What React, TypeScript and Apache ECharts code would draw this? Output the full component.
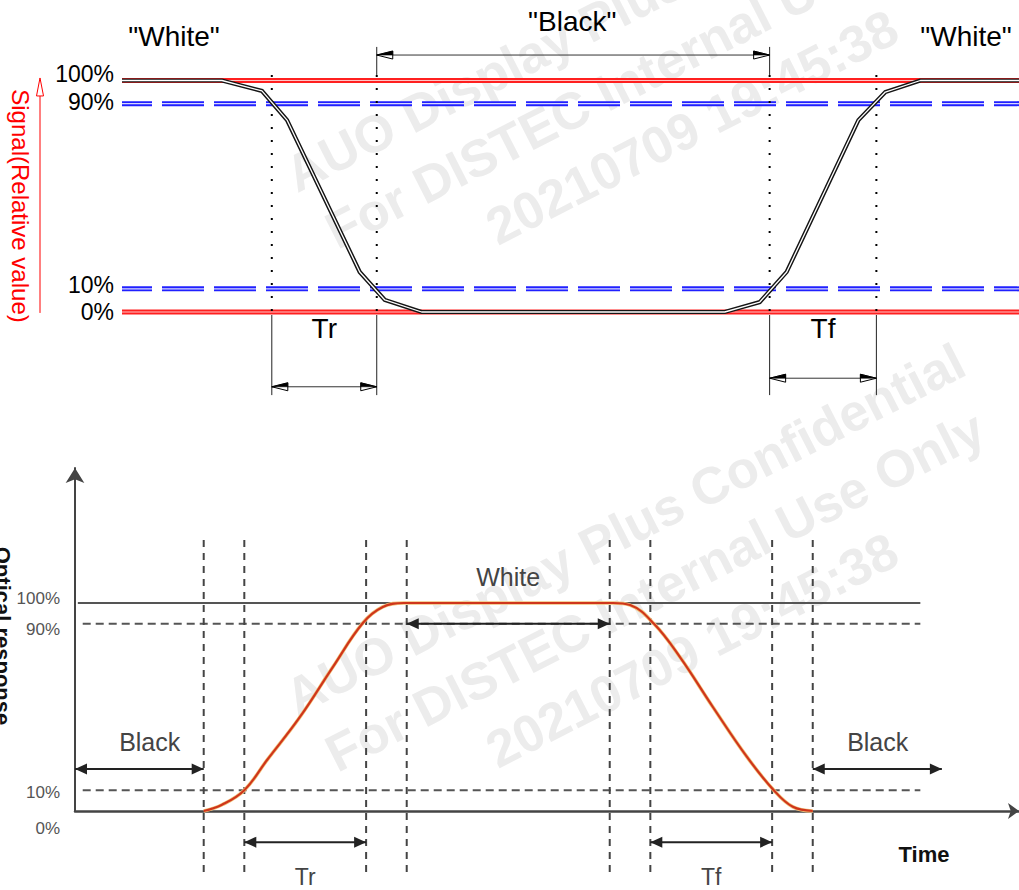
import React, { useEffect, useRef } from "react";
import * as echarts from "echarts";

// ===== Top panel: drive signal (relative value, %) vs time =====
const topTime = [0, 11.15, 15.6, 18.4, 26.5, 29.3, 33.4, 67.2, 71.1, 74.1, 82.1, 85.1, 89.0, 100];
const topSignal = [100, 100, 95.5, 82.9, 17.3, 5.2, 0, 0, 4.3, 17.3, 82.9, 95.0, 100, 100];
const topLevels = [100, 90, 10, 0];
const topLevelLabels = ["100%", "90%", "10%", "0%"];
const topMarkers = [16.7, 28.4, 72.2, 84.1];
const topStates = ['"White"', '"Black"', '"White"'];
const topSpans = ["Tr", "Tf"];
const topAxisTitle = "Signal(Relative value)";

// ===== Bottom panel: optical response vs time =====
const botTime = [3, 3.45, 4, 4.56, 5.37, 6.18, 6.92, 7.41, 7.93, 13.08, 13.5, 14.09, 14.73, 15.54, 16.38, 17.04, 17.51, 18];
const botResponse = [0, 3, 10, 24.5, 45.2, 69.2, 90.4, 98.1, 100, 100, 99, 90, 74, 50, 26, 10, 2, 0];
const botLevels = [100, 90, 10, 0];
const botLevelLabels = ["100%", "90%", "10%", "0%"];
const botMarkers = [3, 4, 7, 8, 13, 14, 17, 18];
const botStates = ["Black", "White", "Black"];
const botSpans = ["Tr", "Tf"];
const botAxisTitle = "Optical response";
const botTimeTitle = "Time";

const watermarkLines = ["AUO Display Plus Confidential", "For DISTEC Internal Use Only", "20210709 19:45:38"];

// ----- annotation layout (data units of each panel) -----
const TOP = {
  stateX: [5.8, 50.2, 94.1],
  stateY: [118.8, 125.7, 118.8],
  blackArrowY: 111,
  tickTop: 114.5,
  dotTop: 102.4,
  dotBottom: -0.4,
  legTop: -1.3,
  legBottom: -35.9,
  spanArrowY: [-32.3, -28.6],
  spanTextY: -7.1,
};
const BOT = {
  lineStart: -0.1,
  dashStart: 0.02,
  lineEnd: 20.65,
  vTop: 130.3,
  vBottom: -29.8,
  blackArrowY: 20.2,
  blackLeft: [-0.17, 3],
  blackRight: [18, 21.18],
  blackTextX: [1.67, 19.6],
  blackTextY: 33.4,
  whiteArrowY: 90,
  whiteTextY: 112.5,
  spanArrowY: -15,
  spanTextY: -31.7,
  timeX: 20.74,
  timeY: -20.7,
};

const FONT = '"Liberation Sans", Arial, Helvetica, sans-serif';

export default function App() {
  const ref = useRef<HTMLDivElement>(null);

  useEffect(() => {
    document.body.style.margin = "0";
    const chart = echarts.init(ref.current as HTMLDivElement, null, { renderer: "svg" });

    const seg = (g: number, data: any[], lineStyle: any, z = 3, extra: any = {}) => ({
      type: "line",
      xAxisIndex: g,
      yAxisIndex: g,
      data,
      symbol: "none",
      showSymbol: false,
      lineStyle,
      z,
      silent: true,
      clip: false,
      animation: false,
      ...extra,
    });

    const series: any[] = [];
    // --- top panel reference levels ---
    for (const v of [topLevels[0], topLevels[3]]) {
      series.push(seg(0, [[0, v], [100, v]], { color: "#ff2020", width: 5 }, 2));
      series.push(seg(0, [[0, v], [100, v]], { color: "#ffc6c6", width: 1.2 }, 2));
    }
    for (const v of [topLevels[1], topLevels[2]]) {
      series.push(seg(0, [[0, v], [100, v]], { color: "#2020ff", width: 5, type: [42, 10], dashOffset: 12 }, 2));
      series.push(seg(0, [[0, v], [100, v]], { color: "#d8d8ff", width: 1.2, type: [42, 10], dashOffset: 12 }, 2));
    }
    topMarkers.forEach((m) => {
      series.push(seg(0, [[m, TOP.dotTop], [m, TOP.dotBottom]], { color: "#000", width: 2, type: [2, 11] }, 4));
      series.push(seg(0, [[m, TOP.legTop], [m, TOP.legBottom]], { color: "#222", width: 1 }, 4));
    });
    [topMarkers[1], topMarkers[2]].forEach((m) => {
      series.push(seg(0, [[m, TOP.tickTop], [m, TOP.dotTop]], { color: "#222", width: 1 }, 4));
    });
    const topData = topTime.map((t, i) => [t, topSignal[i]]);
    series.push(seg(0, topData, { color: "#151515", width: 4.2, join: "miter" }, 5));
    series.push(seg(0, topData, { color: "#ffffff", width: 1.3 }, 6));

    // --- bottom panel reference levels ---
    series.push(seg(1, [[BOT.lineStart, botLevels[0]], [BOT.lineEnd, botLevels[0]]], { color: "#555", width: 2 }, 3));
    for (const v of [botLevels[1], botLevels[2]]) {
      series.push(seg(1, [[BOT.dashStart, v], [BOT.lineEnd, v]], { color: "#555", width: 2, type: [8, 5] }, 3));
    }
    botMarkers.forEach((m) => {
      series.push(seg(1, [[m, BOT.vTop], [m, BOT.vBottom]], { color: "#444", width: 2, type: [7, 6] }, 3));
    });
    const botData = botTime.map((t, i) => [t, botResponse[i]]);
    series.push(seg(1, botData, { color: "#f2c27a", width: 3.6 }, 5, { smooth: 0.4 }));
    series.push(seg(1, botData, { color: "#cf351b", width: 2.2 }, 6, { smooth: 0.4 }));

    const hidden = { show: false };
    const option: any = {
      animation: false,
      backgroundColor: "#ffffff",
      grid: [
        { left: 122, right: 0, top: 11.05, height: 393.55 },
        { left: 75, right: 0, top: 468, height: 343 },
      ],
      xAxis: [
        { gridIndex: 0, type: "value", min: 0, max: 100, show: false },
        {
          gridIndex: 1,
          type: "value",
          min: -0.17,
          max: 23.08,
          axisLine: { show: true, onZero: false, symbol: ["none", "arrow"], symbolSize: [12, 11], lineStyle: { color: "#444", width: 2.5 } },
          axisTick: hidden,
          axisLabel: hidden,
          splitLine: hidden,
        },
      ],
      yAxis: [
        { gridIndex: 0, type: "value", min: -40, max: 130, show: false },
        {
          gridIndex: 1,
          type: "value",
          min: 0,
          max: 164.9,
          axisLine: { show: true, onZero: false, symbol: ["none", "arrow"], symbolSize: [14, 15], lineStyle: { color: "#444", width: 2 } },
          axisTick: hidden,
          axisLabel: hidden,
          splitLine: hidden,
        },
      ],
      series,
    };
    chart.setOption(option);

    const P = (g: number, x: number, y: number) => chart.convertToPixel({ gridIndex: g } as any, [x, y]) as number[];

    const text = (x: number, y: number, t: string, size: number, o: any = {}) => ({
      type: "text",
      x,
      y,
      z: o.z ?? 20,
      silent: true,
      rotation: o.rotation || 0,
      style: {
        text: t,
        fill: o.color || "#000",
        fontSize: size,
        fontWeight: o.weight || "normal",
        fontFamily: FONT,
        align: o.align || "center",
        textAlign: o.align || "center",
        verticalAlign: "middle",
        textVerticalAlign: "middle",
      },
    });
    const line = (a: number[], b: number[], color: string, w: number) => ({
      type: "line",
      z: 20,
      silent: true,
      shape: { x1: a[0], y1: a[1], x2: b[0], y2: b[1] },
      style: { stroke: color, lineWidth: w },
    });
    const openHead = (tip: number[], dir: number, color = "#000", half = true) => {
      const bx = tip[0] - dir * 16;
      const by = tip[1];
      const els: any[] = [
        {
          type: "polygon",
          z: 21,
          silent: true,
          shape: { points: [tip, [bx, by - 4], [bx, by + 4]] },
          style: { fill: "#fff", stroke: color, lineWidth: 1 },
        },
      ];
      if (half)
        els.push({
          type: "polygon",
          z: 22,
          silent: true,
          shape: { points: [tip, [bx, by - 4], [bx, by]] },
          style: { fill: color, stroke: color, lineWidth: 0.6 },
        });
      return els;
    };
    const filledHead = (tip: number[], dir: number) => ({
      type: "polygon",
      z: 21,
      silent: true,
      shape: { points: [tip, [tip[0] - dir * 12, tip[1] - 5.5], [tip[0] - dir * 12, tip[1] + 5.5]] },
      style: { fill: "#222" },
    });
    const G: any[] = [];

    // watermark (two tiles, as in the source image)
    const wmCenters = [[625, 6], [655, 68], [692, 127]];
    for (const dy of [0, 523]) {
      watermarkLines.forEach((t, i) => {
        G.push(text(wmCenters[i][0], wmCenters[i][1] + dy, t, 52, { z: 0, color: "#ececec", weight: "bold", rotation: (27 * Math.PI) / 180 }));
      });
    }

    // ---- top panel annotations ----
    topLevels.forEach((v, i) => {
      const nudge = [-7, -2, -4, 0][i];
      G.push(text(114, P(0, 0, v)[1] + nudge, topLevelLabels[i], 23, { align: "right" }));
    });
    topStates.forEach((s, i) => {
      const p = P(0, TOP.stateX[i], TOP.stateY[i]);
      G.push(text(p[0], p[1], s, 28));
    });
    {
      const a = P(0, topMarkers[1], TOP.blackArrowY);
      const b = P(0, topMarkers[2], TOP.blackArrowY);
      G.push(line(a, b, "#333", 1), ...openHead(a, -1), ...openHead(b, 1));
    }
    topSpans.forEach((s, i) => {
      const x0 = topMarkers[i * 2];
      const x1 = topMarkers[i * 2 + 1];
      const a = P(0, x0, TOP.spanArrowY[i]);
      const b = P(0, x1, TOP.spanArrowY[i]);
      G.push(line(a, b, "#333", 1), ...openHead(a, -1), ...openHead(b, 1));
      const tp = P(0, (x0 + x1) / 2, TOP.spanTextY);
      G.push(text(tp[0], tp[1], s, 28));
    });
    {
      const tipY = P(0, 0, 101.1)[1];
      const baseY = P(0, 0, -0.4)[1];
      G.push(line([40, baseY], [40, tipY + 17], "#ff0000", 1));
      G.push({
        type: "polygon",
        z: 21,
        silent: true,
        shape: { points: [[40, tipY], [36.5, tipY + 18], [43.5, tipY + 18]] },
        style: { fill: "#fff", stroke: "#ff0000", lineWidth: 1 },
      });
      G.push(text(20, 206, topAxisTitle, 24, { color: "#ff0000", rotation: -Math.PI / 2 }));
    }

    // ---- bottom panel annotations ----
    botLevels.forEach((v, i) => {
      const nudge = [-4.5, 5.7, 2.3, 17][i];
      G.push(text(60, P(1, 0, v)[1] + nudge, botLevelLabels[i], 17, { align: "right", color: "#555" }));
    });
    G.push(text(2, 636, botAxisTitle, 22, { weight: "bold", color: "#111", rotation: -Math.PI / 2 }));
    const dbl = (x0: number, x1: number, y: number) => {
      const a = P(1, x0, y);
      const b = P(1, x1, y);
      G.push(line(a, b, "#222", 2), filledHead(a, -1), filledHead(b, 1));
    };
    dbl(BOT.blackLeft[0], BOT.blackLeft[1], BOT.blackArrowY);
    dbl(BOT.blackRight[0], BOT.blackRight[1], BOT.blackArrowY);
    dbl(botMarkers[3], botMarkers[4], BOT.whiteArrowY);
    dbl(botMarkers[1], botMarkers[2], BOT.spanArrowY);
    dbl(botMarkers[5], botMarkers[6], BOT.spanArrowY);
    {
      const p0 = P(1, BOT.blackTextX[0], BOT.blackTextY);
      const p1 = P(1, (botMarkers[3] + botMarkers[4]) / 2, BOT.whiteTextY);
      const p2 = P(1, BOT.blackTextX[1], BOT.blackTextY);
      G.push(text(p0[0], p0[1], botStates[0], 25, { color: "#444" }));
      G.push(text(p1[0], p1[1], botStates[1], 25, { color: "#444" }));
      G.push(text(p2[0], p2[1], botStates[2], 25, { color: "#444" }));
      const t0 = P(1, (botMarkers[1] + botMarkers[2]) / 2, BOT.spanTextY);
      const t1 = P(1, (botMarkers[5] + botMarkers[6]) / 2, BOT.spanTextY);
      G.push(text(t0[0], t0[1], botSpans[0], 23, { color: "#444" }));
      G.push(text(t1[0], t1[1], botSpans[1], 23, { color: "#444" }));
      const tm = P(1, BOT.timeX, BOT.timeY);
      G.push(text(tm[0], tm[1], botTimeTitle, 22, { weight: "bold", color: "#111" }));
    }

    chart.setOption({ graphic: { elements: G } });

    return () => {
      chart.dispose();
    };
  }, []);

  return <div ref={ref} style={{ width: 1019, height: 890 }} />;
}
